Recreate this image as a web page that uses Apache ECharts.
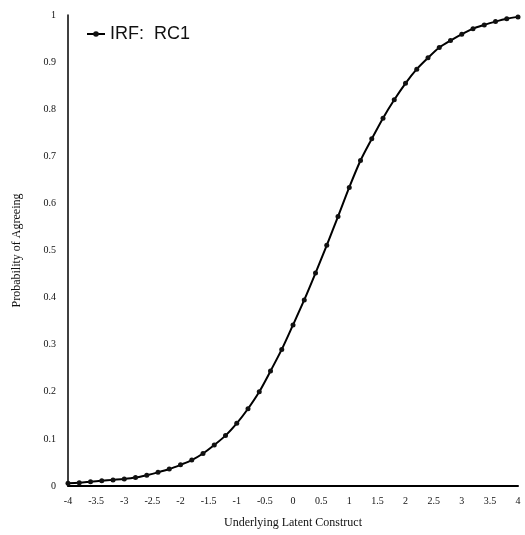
<!DOCTYPE html>
<html>
<head>
<meta charset="utf-8">
<script src="https://cdn.jsdelivr.net/npm/echarts@6/dist/echarts.min.js"></script>
<style>html,body{margin:0;padding:0;background:#fff;}#c{width:525px;height:535px;}</style>
</head>
<body>
<div id="c"></div>
<script>
const thetaValues = [-4,-3.8,-3.6,-3.4,-3.2,-3,-2.8,-2.6,-2.4,-2.2,-2,-1.8,-1.6,-1.4,-1.2,-1,-0.8,-0.6,-0.4,-0.2,0,0.2,0.4,0.6,0.8,1,1.2,1.4,1.6,1.8,2,2.2,2.4,2.6,2.8,3,3.2,3.4,3.6,3.8,4];
const probRC1 = [0.006,0.007,0.009,0.011,0.013,0.015,0.018,0.023,0.029,0.036,0.045,0.055,0.069,0.087,0.107,0.133,0.164,0.200,0.244,0.290,0.342,0.395,0.452,0.511,0.572,0.634,0.691,0.737,0.781,0.820,0.855,0.885,0.909,0.931,0.946,0.959,0.971,0.979,0.986,0.992,0.996];
const seriesName = 'IRF:  RC1';
const xAxisTitle = 'Underlying Latent Construct';
const yAxisTitle = 'Probability of Agreeing';

const chart = echarts.init(document.getElementById('c'), null, {renderer:'canvas'});
const serif = 'Liberation Serif';
chart.setOption({
  animation:false,
  backgroundColor:'#fff',
  grid:{left:68,right:7,top:15,bottom:49,containLabel:false},
  legend:{
    left:86, top:25, padding:0, itemWidth:18, itemHeight:7, itemGap:4,
    textStyle:{fontFamily:'Liberation Sans',fontSize:18,color:'#111'},
    data:[seriesName]
  },
  xAxis:{
    type:'value', min:-4, max:4, interval:0.5,
    name:xAxisTitle, nameLocation:'middle', nameGap:31,
    nameTextStyle:{fontFamily:serif,fontSize:12,color:'#111'},
    axisLine:{show:true,onZero:false,lineStyle:{color:'#000',width:2}},
    axisTick:{show:false},
    splitLine:{show:false},
    axisLabel:{fontFamily:serif,fontSize:10,color:'#111',margin:10}
  },
  yAxis:{
    type:'value', min:0, max:1, interval:0.1,
    name:yAxisTitle, nameLocation:'middle', nameGap:45, nameRotate:90,
    nameTextStyle:{fontFamily:serif,fontSize:12,color:'#111'},
    axisLine:{show:true,onZero:false,lineStyle:{color:'#000',width:1.5}},
    axisTick:{show:false},
    splitLine:{show:false},
    axisLabel:{fontFamily:serif,fontSize:10,color:'#111',margin:12}
  },
  series:[{
    name:seriesName,
    type:'line',
    smooth:0.3,
    data:thetaValues.map((x,i)=>[x,probRC1[i]]),
    symbol:'circle', symbolSize:5,
    lineStyle:{color:'#000',width:2},
    itemStyle:{color:'#111'}
  }]
});
</script>
</body>
</html>
